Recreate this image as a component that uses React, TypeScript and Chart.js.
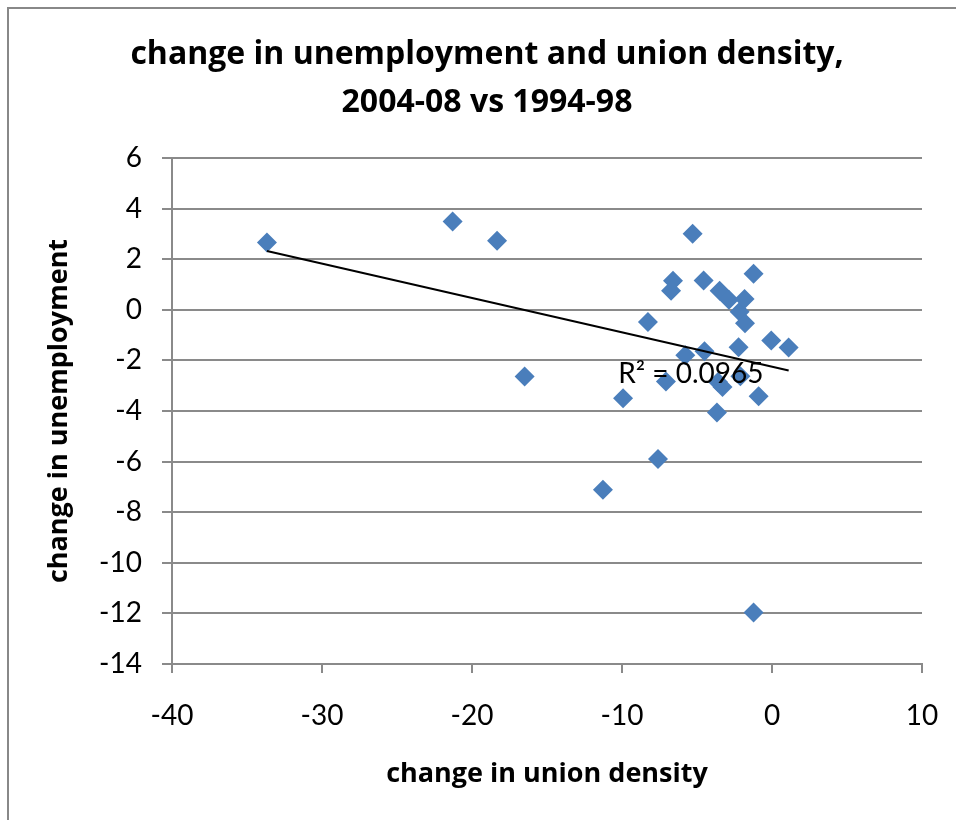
import React, { useEffect, useRef } from "react";
import { Chart, registerables } from "chart.js";

Chart.register(...registerables);

// change in union density (percentage points), one entry per country
const unionDensityChange = [
  -33.67, -21.29, -18.33, -16.49, -11.27, -9.93, -8.27, -7.6, -7.07, -6.6,
  -6.73, -5.78, -5.29, -4.56, -4.5, -3.67, -3.6, -3.3, -3.49, -2.87,
  -2.23, -2.16, -2.11, -1.83, -1.8, -1.23, -1.23, -0.89, -0.05, 1.11,
];

// change in unemployment rate (percentage points), same order as above
const unemploymentChange = [
  2.66, 3.49, 2.73, -2.64, -7.11, -3.5, -0.48, -5.9, -2.83, 1.15,
  0.75, -1.8, 3.01, 1.16, -1.64, -4.06, -2.85, -3.05, 0.75, 0.4,
  -1.48, -0.08, -2.63, 0.43, -0.53, 1.42, -11.96, -3.42, -1.21, -1.49,
];

const xTickValues = [-40, -30, -20, -10, 0, 10];
const yTickValues = [6, 4, 2, 0, -2, -4, -6, -8, -10, -12, -14];

const titleLines = ["change in unemployment and union density,", "2004-08 vs 1994-98"];
const xAxisTitle = "change in union density";
const yAxisTitle = "change in unemployment";
const rSquaredLabel = "R\u00b2 = 0.0965";
// data-space anchor (left edge, baseline) of the R² label
const rSquaredAnchor = { x: -10.25, y: -2.88 };

const TICK_FONT = "Lato, 'Open Sans', sans-serif";
const TITLE_FONT = "'Open Sans', Lato, sans-serif";
const GRID = "#8a8a8a";
const MARKER = "#4A7EBB";

// ordinary least squares fit y = a + b x
function linearFit(xs: number[], ys: number[]) {
  const n = xs.length;
  const mx = xs.reduce((s, v) => s + v, 0) / n;
  const my = ys.reduce((s, v) => s + v, 0) / n;
  let sxy = 0;
  let sxx = 0;
  for (let i = 0; i < n; i++) {
    sxy += (xs[i] - mx) * (ys[i] - my);
    sxx += (xs[i] - mx) * (xs[i] - mx);
  }
  const slope = sxy / sxx;
  return { slope, intercept: my - slope * mx };
}

const decorations = {
  id: "decorations",
  beforeDraw(chart: any) {
    const { ctx } = chart;
    ctx.save();
    ctx.strokeStyle = "#888888";
    ctx.lineWidth = 2;
    ctx.beginPath();
    ctx.moveTo(8, 1000);
    ctx.lineTo(8, 8);
    ctx.lineTo(1000, 8);
    ctx.stroke();
    ctx.restore();
  },
  afterDatasetsDraw(chart: any) {
    const { ctx, chartArea, scales } = chart;
    ctx.save();
    ctx.fillStyle = "#000";

    // trendline R² label
    ctx.font = `28px ${TICK_FONT}`;
    ctx.textAlign = "left";
    ctx.textBaseline = "alphabetic";
    ctx.fillText(
      rSquaredLabel,
      scales.x.getPixelForValue(rSquaredAnchor.x),
      scales.y.getPixelForValue(rSquaredAnchor.y)
    );

    // chart title
    ctx.font = `bold 32px ${TITLE_FONT}`;
    ctx.textAlign = "center";
    ctx.fillText(titleLines[0], 487, 64);
    ctx.fillText(titleLines[1], 487, 112);

    // axis titles
    const midX = (chartArea.left + chartArea.right) / 2;
    const midY = (chartArea.top + chartArea.bottom) / 2;
    ctx.font = `bold 27px ${TITLE_FONT}`;
    ctx.fillText(xAxisTitle, midX, 782);
    ctx.translate(67, midY);
    ctx.rotate(-Math.PI / 2);
    ctx.fillText(yAxisTitle, 0, 0);
    ctx.restore();
  },
};

export default function App() {
  const canvasRef = useRef<HTMLCanvasElement | null>(null);

  useEffect(() => {
    const canvas = canvasRef.current;
    if (!canvas) return;

    const points = unionDensityChange.map((x, i) => ({ x, y: unemploymentChange[i] }));
    const { slope, intercept } = linearFit(unionDensityChange, unemploymentChange);
    const xMin = Math.min(...unionDensityChange);
    const xMax = Math.max(...unionDensityChange);
    const trend = [
      { x: xMin, y: intercept + slope * xMin },
      { x: xMax, y: intercept + slope * xMax },
    ];

    const chart = new Chart(canvas, {
      type: "scatter",
      data: {
        datasets: [
          {
            type: "line",
            data: trend,
            borderColor: "#000",
            borderWidth: 2,
            pointRadius: 0,
            fill: false,
            order: 0,
          },
          {
            data: points,
            pointStyle: "rectRot",
            pointRadius: 10,
            pointHoverRadius: 10,
            backgroundColor: MARKER,
            borderColor: MARKER,
            borderWidth: 0,
            order: 1,
          },
        ],
      } as any,
      options: {
        animation: false,
        responsive: false,
        events: [],
        layout: { padding: { top: 158, right: 34, left: 0, bottom: 0 } },
        plugins: {
          legend: { display: false },
          tooltip: { enabled: false },
          title: { display: false },
        },
        scales: {
          x: {
            type: "linear",
            min: -40,
            max: 10,
            afterBuildTicks: (scale: any) => {
              scale.ticks = xTickValues.map((value) => ({ value }));
            },
            afterFit: (scale: any) => {
              scale.height = 156;
              scale.paddingLeft = 0;
              scale.paddingRight = 0;
            },
            grid: {
              drawOnChartArea: false,
              drawTicks: true,
              tickLength: 9,
              color: GRID,
              lineWidth: 2,
            },
            border: { color: GRID, width: 2 },
            ticks: {
              color: "#000",
              font: { family: TICK_FONT, size: 28 },
              padding: 26,
              maxRotation: 0,
            },
          },
          y: {
            type: "linear",
            min: -14,
            max: 6,
            afterBuildTicks: (scale: any) => {
              scale.ticks = yTickValues.map((value) => ({ value }));
            },
            afterFit: (scale: any) => {
              scale.width = 172;
            },
            grid: {
              drawTicks: true,
              tickLength: 10,
              color: GRID,
              lineWidth: 2,
            },
            border: { color: GRID, width: 2 },
            ticks: {
              color: "#000",
              font: { family: TICK_FONT, size: 28 },
              padding: 20,
            },
          },
        },
      },
      plugins: [decorations],
    } as any);

    return () => chart.destroy();
  }, []);

  return (
    <div style={{ position: "absolute", left: 0, top: 0, width: 956, height: 820, background: "#fff" }}>
      <canvas ref={canvasRef} width={956} height={820} style={{ display: "block" }} />
    </div>
  );
}
